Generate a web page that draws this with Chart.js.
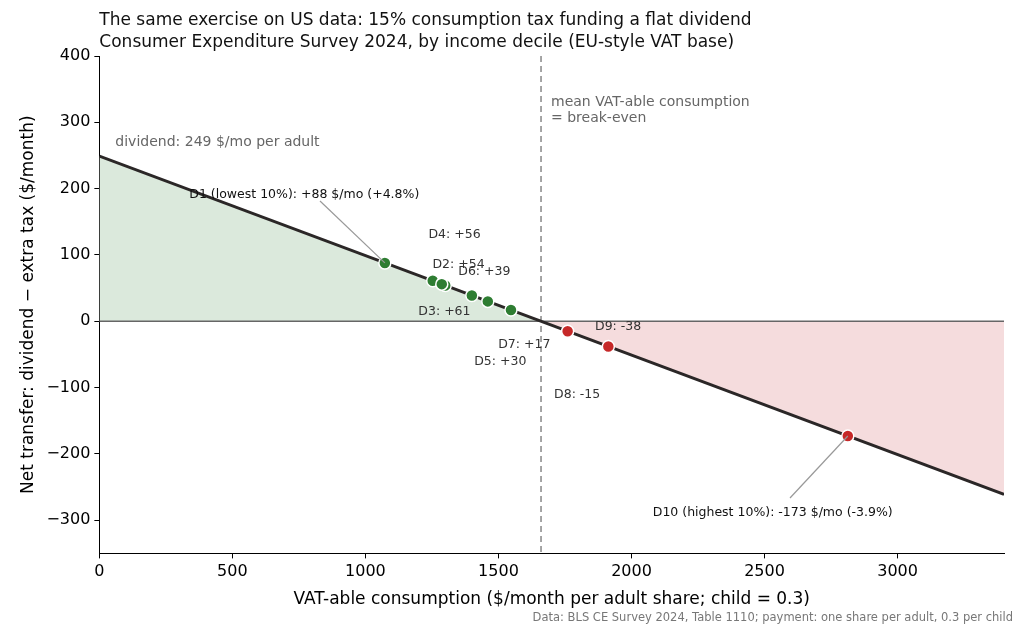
<!DOCTYPE html>
<html>
<head>
<meta charset="utf-8">
<script src="https://cdn.jsdelivr.net/npm/chart.js@4"></script>
<style>
  body { margin: 0; background: #fff; }
  #wrap { width: 1024px; height: 636px; }
</style>
</head>
<body>
<div id="wrap"><canvas id="c" width="1024" height="636"></canvas></div>
<script>
// 数据：十分位消费与净转移
const deciles = ['D1', 'D2', 'D3', 'D4', 'D5', 'D6', 'D7', 'D8', 'D9', 'D10'];
const consumption = [1073, 1300, 1253, 1287, 1460, 1400, 1547, 1760, 1913, 2813];
const netTransfer = [88, 54, 61, 56, 30, 39, 17, -15, -38, -173];
const pointLabels = ['D1 (lowest 10%): +88 $/mo (+4.8%)', 'D2: +54', 'D3: +61', 'D4: +56', 'D5: +30',
  'D6: +39', 'D7: +17', 'D8: -15', 'D9: -38', 'D10 (highest 10%): -173 $/mo (-3.9%)'];
// 标签位置（数据坐标）
const labelX = [338, 1252, 1199, 1237, 1409, 1349, 1499, 1709, 1863, 2080];
const labelY = [191, 85, 15, 130, -61, 74, -35, -111, -9, -288];
const dividend = 249;
const taxRate = 0.15;
const breakEven = 1660;
const xMax = 3400;
const xTicks = [0, 500, 1000, 1500, 2000, 2500, 3000];
const yTicks = [-300, -200, -100, 0, 100, 200, 300, 400];

const endY = dividend - taxRate * xMax;

const annotate = {
  id: 'annotate',
  beforeDatasetsDraw(chart) {
    const { ctx, chartArea: a, scales: { x, y } } = chart;
    ctx.save();
    // 盈亏平衡线
    const bx = x.getPixelForValue(breakEven);
    ctx.strokeStyle = '#888'; ctx.lineWidth = 1.5; ctx.setLineDash([6, 4]);
    ctx.beginPath(); ctx.moveTo(bx, a.top); ctx.lineTo(bx, a.bottom); ctx.stroke();
    ctx.restore();
  },
  afterDatasetsDraw(chart) {
    const { ctx, chartArea: a, scales: { x, y } } = chart;
    ctx.save();
    ctx.font = '14px "DejaVu Sans"';
    ctx.fillStyle = '#666';
    ctx.textBaseline = 'middle';
    ctx.fillText('dividend: 249 $/mo per adult', a.left + 16, y.getPixelForValue(270));
    const bx = x.getPixelForValue(breakEven);
    ctx.fillText('mean VAT-able consumption', bx + 10, 102);
    ctx.fillText('= break-even', bx + 10, 118);
    // 引线
    ctx.strokeStyle = '#999'; ctx.lineWidth = 1.2;
    [[0, 320, 201], [9, 790, 498]].forEach(([i, tx, ty]) => {
      ctx.beginPath(); ctx.moveTo(tx, ty);
      ctx.lineTo(x.getPixelForValue(consumption[i]), y.getPixelForValue(netTransfer[i])); ctx.stroke();
    });
    ctx.font = '12.5px "DejaVu Sans"';
    pointLabels.forEach((t, i) => {
      ctx.fillStyle = (i === 0 || i === 9) ? '#111' : '#333';
      ctx.fillText(t, x.getPixelForValue(labelX[i]), y.getPixelForValue(labelY[i]));
    });
    // 标题
    ctx.fillStyle = '#111';
    ctx.font = '17px "DejaVu Sans"';
    ctx.textBaseline = 'alphabetic';
    ctx.fillText('The same exercise on US data: 15% consumption tax funding a flat dividend', a.left, 25);
    ctx.fillText('Consumer Expenditure Survey 2024, by income decile (EU-style VAT base)', a.left, 47);
    ctx.font = '11.5px "DejaVu Sans"';
    ctx.fillStyle = '#777';
    ctx.textAlign = 'right';
    ctx.fillText('Data: BLS CE Survey 2024, Table 1110; payment: one share per adult, 0.3 per child', 1013, 621);
    ctx.restore();
  }
};

new Chart(document.getElementById('c'), {
  type: 'scatter',
  data: {
    datasets: [
      {
        type: 'line', data: [{ x: 0, y: dividend }, { x: breakEven, y: 0 }],
        fill: 'origin', backgroundColor: '#dbe9dc', borderWidth: 0, pointRadius: 0, order: 4
      },
      {
        type: 'line', data: [{ x: breakEven, y: 0 }, { x: xMax, y: endY }],
        fill: 'origin', backgroundColor: '#f5dcdd', borderWidth: 0, pointRadius: 0, order: 4
      },
      {
        type: 'line', data: [{ x: 0, y: 0 }, { x: xMax, y: 0 }],
        borderColor: '#666', borderWidth: 1.5, pointRadius: 0, fill: false, order: 3
      },
      {
        type: 'line', data: [{ x: 0, y: dividend }, { x: xMax, y: endY }],
        borderColor: '#2b2727', borderWidth: 3, pointRadius: 0, fill: false, order: 2
      },
      {
        data: consumption.map((c, i) => ({ x: c, y: netTransfer[i] })),
        backgroundColor: netTransfer.map(v => v >= 0 ? '#2e7d32' : '#c62828'),
        borderColor: '#fff', borderWidth: 1.5, pointRadius: 6, order: 1
      }
    ]
  },
  options: {
    responsive: false,
    animation: false,
    layout: { padding: { top: 56, right: 20, bottom: 22, left: 14 } },
    plugins: { legend: { display: false }, tooltip: { enabled: false } },
    scales: {
      x: {
        type: 'linear', min: 0, max: xMax,
        afterBuildTicks: s => { s.ticks = xTicks.map(v => ({ value: v })); },
        grid: { drawOnChartArea: false, drawTicks: true, tickLength: 5, color: '#000' },
        border: { color: '#000', width: 1 },
        ticks: { color: '#000', padding: 4, callback: v => String(v), font: { size: 16, family: 'DejaVu Sans' } },
        title: { display: true, text: 'VAT-able consumption ($/month per adult share; child = 0.3)', color: '#000', font: { size: 17, family: 'DejaVu Sans' } }
      },
      y: {
        min: -350, max: 400,
        afterBuildTicks: s => { s.ticks = yTicks.map(v => ({ value: v })); },
        grid: { drawOnChartArea: false, drawTicks: true, tickLength: 5, color: '#000' },
        border: { color: '#000', width: 1 },
        ticks: { color: '#000', padding: 4, callback: v => String(v).replace('-', '−'), font: { size: 16, family: 'DejaVu Sans' } },
        title: { display: true, text: 'Net transfer: dividend − extra tax ($/month)', color: '#000', font: { size: 17, family: 'DejaVu Sans' } }
      }
    }
  },
  plugins: [annotate]
});
</script>
</body>
</html>
